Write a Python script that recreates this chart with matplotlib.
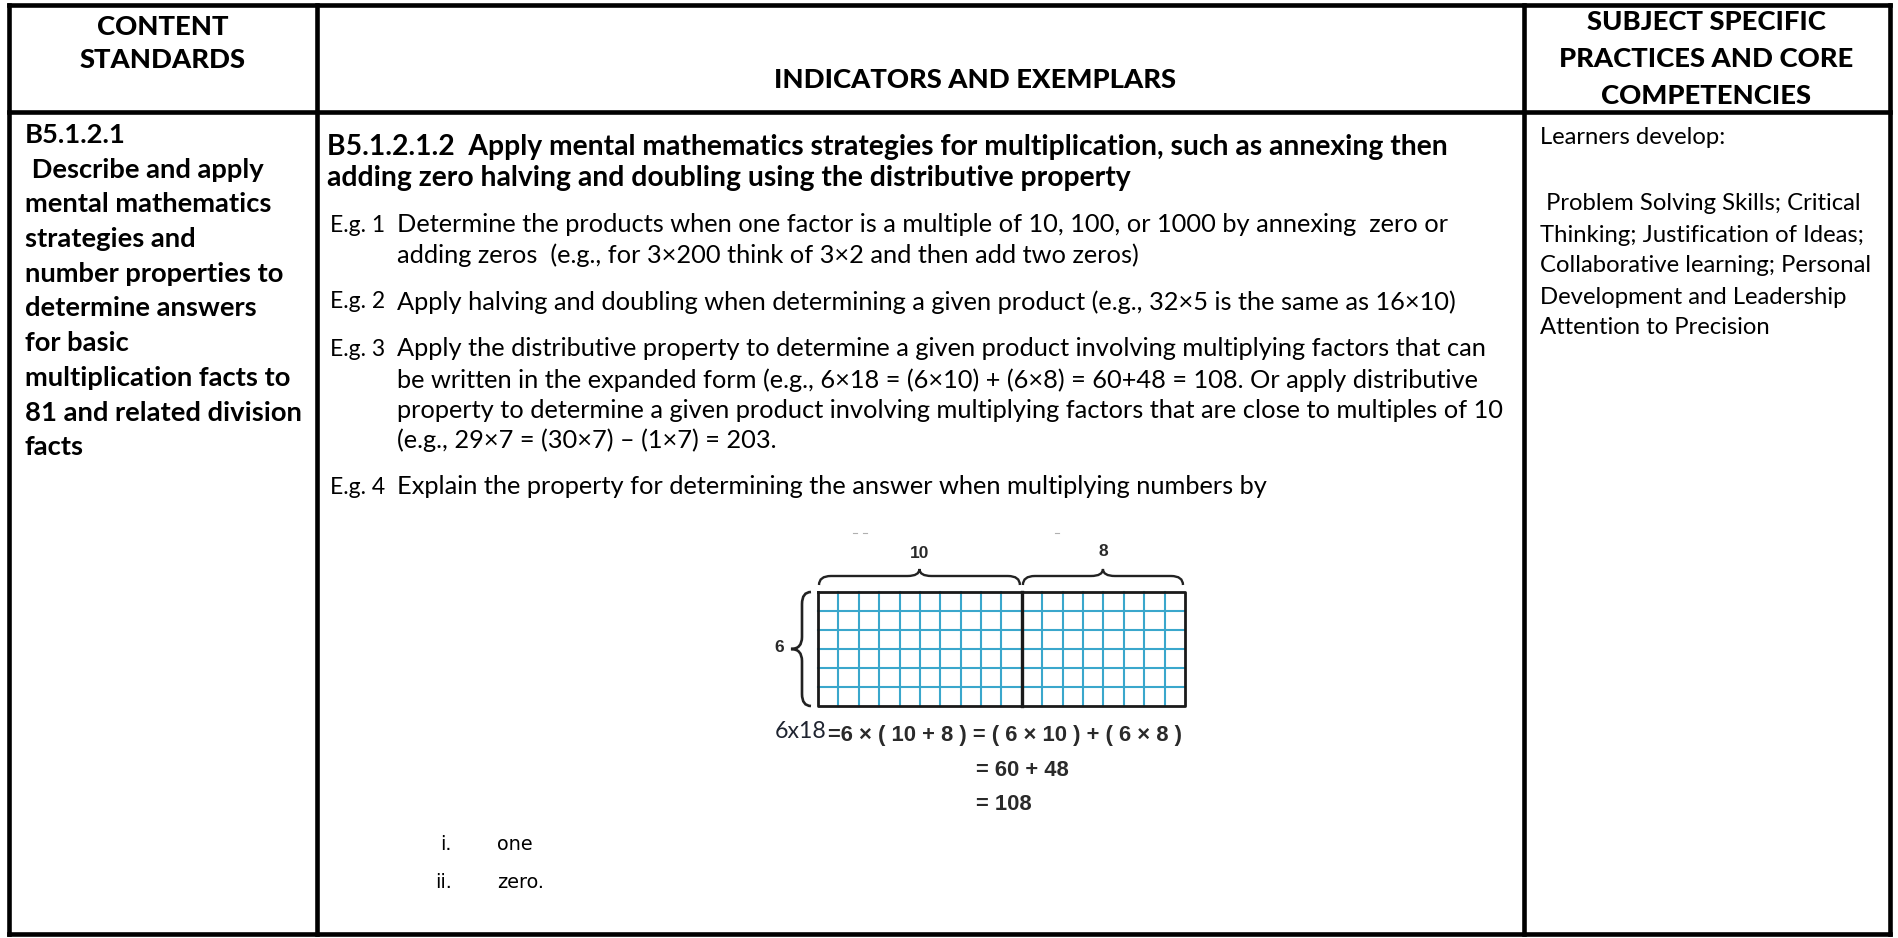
import matplotlib
matplotlib.use("Agg")
import matplotlib.pyplot as plt
from matplotlib.path import Path
from matplotlib.patches import PathPatch

W, H = 1898, 938

# ---- content -------------------------------------------------------------
header_left = ["CONTENT", "STANDARDS"]
header_mid = ["INDICATORS AND EXEMPLARS"]
header_right = ["SUBJECT SPECIFIC", "PRACTICES AND CORE", "COMPETENCIES"]

standard_lines = ["B5.1.2.1", " Describe and apply", "mental mathematics",
                  "strategies and", "number properties to", "determine answers",
                  "for basic", "multiplication facts to", "81 and related division",
                  "facts"]

indicator_title = ["B5.1.2.1.2  Apply mental mathematics strategies for multiplication, such as annexing then",
                   "adding zero halving and doubling using the distributive property"]

exemplar_labels = ["E.g. 1", "E.g. 2", "E.g. 3", "E.g. 4"]
exemplar_text = [
    ["Determine the products when one factor is a multiple of 10, 100, or 1000 by annexing  zero or",
     "adding zeros  (e.g., for 3×200 think of 3×2 and then add two zeros)"],
    ["Apply halving and doubling when determining a given product (e.g., 32×5 is the same as 16×10)"],
    ["Apply the distributive property to determine a given product involving multiplying factors that can",
     "be written in the expanded form (e.g., 6×18 = (6×10) + (6×8) = 60+48 = 108. Or apply distributive",
     "property to determine a given product involving multiplying factors that are close to multiples of 10",
     "(e.g., 29×7 = (30×7) – (1×7) = 203."],
    ["Explain the property for determining the answer when multiplying numbers by"],
]

answer_marks = ["i.", "ii."]
answer_words = ["one", "zero."]

practice_lines = ["Learners develop:", "", " Problem Solving Skills; Critical",
                  "Thinking; Justification of Ideas;", "Collaborative learning; Personal",
                  "Development and Leadership", "Attention to Precision"]

# area model 6 x (10 + 8)
grid_cols = [10, 8]
grid_rows = 6
eq_lead = "6x18"
eq_lines = ["=6 × ( 10 + 8 ) = ( 6 × 10 ) + ( 6 × 8 )", "= 60 + 48", "= 108"]

# ---- layout (pixels) -----------------------------------------------------
X_L, X_R, Y_T, Y_B = 9, 1890, 5, 934
Y_HEAD = 112
X_C1, X_C2 = 317, 1524
BORDER = 4.6 * 0.72

fig = plt.figure(figsize=(W / 100, H / 100), dpi=100)
ax = fig.add_axes([0, 0, 1, 1])
ax.set_xlim(0, W)
ax.set_ylim(H, 0)
ax.axis("off")
renderer = fig.canvas.get_renderer()

BODY = "Lato"


def fit(text, target, **kw):
    t = ax.text(0, 0, text, fontsize=20, **kw)
    w = t.get_window_extent(renderer).width
    t.remove()
    return 20 * target / w


# table rules
for x in (X_L, X_C1, X_C2, X_R):
    ax.plot([x, x], [Y_T, Y_B], color="black", lw=BORDER, solid_capstyle="projecting")
for y in (Y_T, Y_HEAD, Y_B):
    ax.plot([X_L, X_R], [y, y], color="black", lw=BORDER, solid_capstyle="projecting")

# headers
fs_head = fit("PRACTICES AND CORE", 294, family=BODY, weight="black")
for txt, y in zip(header_left, [27, 60]):
    ax.text(163, y, txt, family=BODY, weight="black", fontsize=fs_head, ha="center", va="center")
ax.text(975, 80, header_mid[0], family=BODY, weight="black", fontsize=fs_head, ha="center", va="center")
for txt, y in zip(header_right, [22, 59, 96]):
    ax.text(1706, y, txt, family=BODY, weight="black", fontsize=fs_head, ha="center", va="center")

# content standards column
fs_std = fit("81 and related division", 277, family=BODY, weight="bold")
for i, txt in enumerate(standard_lines):
    ax.text(25, 135 + i * 34.7, txt, family=BODY, weight="bold", fontsize=fs_std, va="center")

# indicator
fs_ind = fit(indicator_title[0], 1120, family=BODY, weight="bold")
for txt, y in zip(indicator_title, [147, 178]):
    ax.text(327, y, txt, family=BODY, weight="bold", fontsize=fs_ind, va="center")

fs_body = fit(exemplar_text[1][0], 1064, family=BODY)
fs_lab = fs_body * 0.9
ex_y = [[225, 255], [302], [349, 380, 411, 440], [487]]
for lab, lines, ys in zip(exemplar_labels, exemplar_text, ex_y):
    ax.text(330, ys[0], lab, family=BODY, fontsize=fs_lab, va="center")
    for txt, y in zip(lines, ys):
        ax.text(397, y, txt, family=BODY, fontsize=fs_body, va="center")

# answers list
fs_ans = fit("zero.", 47, family="DejaVu Sans")
for mark, word, y in zip(answer_marks, answer_words, [845, 882]):
    ax.text(452, y, mark, family="DejaVu Sans", fontsize=fs_ans, ha="right", va="center")
    ax.text(497, y, word, family="DejaVu Sans", fontsize=fs_ans, va="center")

# practices column
fs_pr = fit(practice_lines[4], 333, family=BODY)
for i, txt in enumerate(practice_lines):
    y = 137 if i == 0 else 204 + (i - 2) * 31
    if txt:
        ax.text(1540, y, txt, family=BODY, fontsize=fs_pr, va="center")

# ---- area model ----------------------------------------------------------
GX0, GX1, GY0, GY1 = 818, 1185, 592, 706
ncols = sum(grid_cols)
cw = (GX1 - GX0) / ncols
rh = (GY1 - GY0) / grid_rows
blue = "#3aa7cc"
for c in range(1, ncols):
    x = GX0 + c * cw
    ax.plot([x, x], [GY0, GY1], color=blue, lw=1.5)
for r in range(1, grid_rows):
    y = GY0 + r * rh
    ax.plot([GX0, GX1], [y, y], color=blue, lw=1.5)
ax.plot([GX0, GX1, GX1, GX0, GX0], [GY0, GY0, GY1, GY1, GY0], color="#1a1a1a", lw=2.0)
xsplit = GX0 + grid_cols[0] * cw
ax.plot([xsplit, xsplit], [GY0, GY1], color="#1a1a1a", lw=2.4)

C3, L2, M = Path.CURVE3, Path.LINETO, Path.MOVETO


def brace_h(x0, x1, y_end, y_mid, y_tip, r=12):
    xc = (x0 + x1) / 2
    v = [(x0, y_end), (x0, y_mid), (x0 + r, y_mid), (xc - r, y_mid), (xc, y_mid), (xc, y_tip),
         (xc, y_mid), (xc + r, y_mid), (x1 - r, y_mid), (x1, y_mid), (x1, y_end)]
    codes = [M, C3, C3, L2, C3, C3, C3, C3, L2, C3, C3]
    ax.add_patch(PathPatch(Path(v, codes), fill=False, ec="#222222", lw=1.7))


def brace_v(y0, y1, x_end, x_mid, x_tip, r=12):
    yc = (y0 + y1) / 2
    v = [(x_end, y0), (x_mid, y0), (x_mid, y0 + r), (x_mid, yc - r), (x_mid, yc), (x_tip, yc),
         (x_mid, yc), (x_mid, yc + r), (x_mid, y1 - r), (x_mid, y1), (x_end, y1)]
    codes = [M, C3, C3, L2, C3, C3, C3, C3, L2, C3, C3]
    ax.add_patch(PathPatch(Path(v, codes), fill=False, ec="#222222", lw=1.9))


brace_h(GX0 + 1, xsplit - 2, 585, 576, 569)
brace_h(xsplit + 1, GX1 - 2, 585, 576, 569)
brace_v(GY0, GY1, 811, 802, 791)

lab_kw = dict(family="Liberation Sans", weight="bold", color="#2a2a2a", ha="center", va="center")
ax.text((GX0 + xsplit) / 2, 553, str(grid_cols[0]), fontsize=12.5, **lab_kw)
ax.text((xsplit + GX1) / 2, 552, str(grid_cols[1]), fontsize=12.5, **lab_kw)
ax.text(779, 648, str(grid_rows), fontsize=12.5, **lab_kw)

# scan specks above the model
ax.plot([853, 857], [533, 533], color="#b0b0b0", lw=0.8)
ax.plot([863, 867], [533, 533], color="#b0b0b0", lw=0.8)
ax.plot([1055, 1059], [533, 533], color="#b0b0b0", lw=0.8)

fs_eq = fit(eq_lines[0], 355, family="Liberation Sans", weight="bold")
ax.text(827, 732, eq_lead, family="Lato", fontsize=fs_eq * 1.05, color="#1f2430",
        ha="right", va="center")
ax.text(828, 735, eq_lines[0], family="Liberation Sans", weight="bold", fontsize=fs_eq,
        color="#2a2a2a", va="center")
for txt, y in zip(eq_lines[1:], [770, 805]):
    ax.text(976, y, txt, family="Liberation Sans", weight="bold", fontsize=fs_eq,
            color="#2a2a2a", va="center")

fig.savefig("out.png", dpi=100)
